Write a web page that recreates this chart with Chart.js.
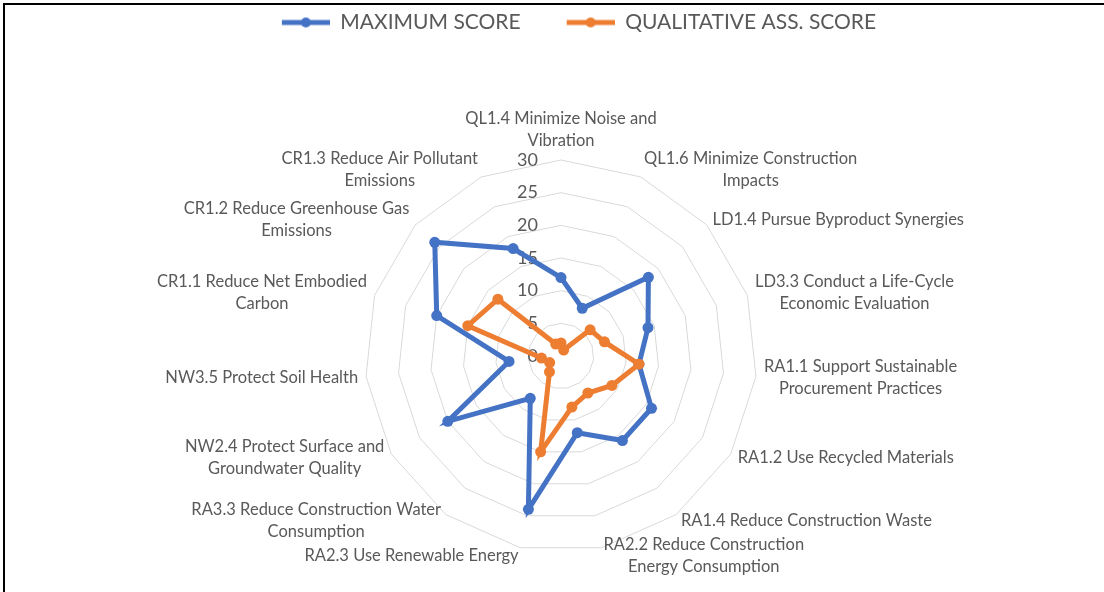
<!DOCTYPE html>
<html>
<head>
<meta charset="utf-8">
<title>Radar chart</title>
<script src="https://cdn.jsdelivr.net/npm/chart.js@4.4.0/dist/chart.umd.min.js"></script>
<style>
  html, body { margin: 0; padding: 0; background: #fff; }
  #wrap { position: relative; width: 1104px; height: 592px; overflow: hidden; }
  #radarChart { position: absolute; left: 0; top: 0; }
  #frame { position: absolute; left: 3px; top: 3px; right: -4px; bottom: -4px;
           border-top: 2px solid #000; border-left: 2px solid #000; pointer-events: none; }
</style>
</head>
<body>
<div id="wrap">
  <canvas id="radarChart" width="1104" height="592"></canvas>
  <div id="frame"></div>
</div>
<script>
// Categories (multi-line labels as arrays)
const categories = [
  ['QL1.4 Minimize Noise and', 'Vibration'],
  ['QL1.6 Minimize Construction', 'Impacts'],
  'LD1.4 Pursue Byproduct Synergies',
  ['LD3.3 Conduct a Life-Cycle', 'Economic Evaluation'],
  ['RA1.1 Support Sustainable', 'Procurement Practices'],
  'RA1.2 Use Recycled Materials',
  'RA1.4 Reduce Construction Waste',
  ['RA2.2 Reduce Construction', 'Energy Consumption'],
  'RA2.3 Use Renewable Energy',
  ['RA3.3 Reduce Construction Water', 'Consumption'],
  ['NW2.4 Protect Surface and', 'Groundwater Quality'],
  'NW3.5 Protect Soil Health',
  ['CR1.1 Reduce Net Embodied', 'Carbon'],
  ['CR1.2 Reduce Greenhouse Gas', 'Emissions'],
  ['CR1.3 Reduce Air Pollutant', 'Emissions']
];

// Series values
const maximumScore = [12, 8, 18, 14, 12, 16, 16, 12, 24, 8, 20, 8, 20, 26, 18];
const qualitativeScore = [2, 1, 6, 7, 12, 9, 7, 8, 15, 3, 2, 3, 15, 13, 2];

// Value axis
const axisMin = 0;
const axisMax = 30;
const axisStep = 5;

const BLUE = '#4472C4';
const ORANGE = '#ED7D31';
const TEXT = '#595959';
const FONT = 'Lato';

// Legend marker: line with a dot; blank on the left works as gap before the item
const ICON_GAP = 36, ICON_LINE = 48;
function legendIcon(color) {
  const c = document.createElement('canvas');
  c.width = ICON_GAP + ICON_LINE; c.height = 14;
  const g = c.getContext('2d');
  g.strokeStyle = color;
  g.lineWidth = 5;
  g.beginPath(); g.moveTo(ICON_GAP, 7); g.lineTo(ICON_GAP + ICON_LINE, 7); g.stroke();
  g.fillStyle = color;
  g.beginPath(); g.arc(ICON_GAP + ICON_LINE / 2, 7, 5, 0, Math.PI * 2); g.fill();
  return c;
}
const icons = [legendIcon(BLUE), legendIcon(ORANGE)];

// Excel-like tick labels and category labels
const radarText = {
  id: 'radarText',
  beforeDatasetsDraw(chart) {
    const s = chart.scales.r;
    const ctx = chart.ctx;
    ctx.save();
    ctx.fillStyle = TEXT;

    // value ticks, left of the vertical axis
    ctx.font = '18px ' + FONT;
    ctx.textAlign = 'right';
    ctx.textBaseline = 'middle';
    s.ticks.forEach(t => {
      ctx.fillText(t.label, s.xCenter - 23, s.yCenter - s.getDistanceFromCenterForValue(t.value));
    });

    // category labels
    ctx.font = '16.5px ' + FONT;
    ctx.textAlign = 'center';
    const lineGap = 22;
    const n = chart.data.labels.length;
    chart.data.labels.forEach((lab, i) => {
      const lines = Array.isArray(lab) ? lab : [lab];
      const p = s.getPointPosition(i, s.drawingArea + 8);
      const a = i * 2 * Math.PI / n;
      const sin = Math.sin(a), cos = Math.cos(a);
      const w = Math.max(...lines.map(l => ctx.measureText(l).width));
      const h = lines.length * lineGap;
      let left, top;
      if (Math.abs(sin) < 0.1) {
        left = p.x - w / 2;
        top = cos > 0 ? p.y - h : p.y;
      } else {
        left = sin > 0 ? p.x : p.x - w;
        top = p.y - h / 2;
      }
      lines.forEach((l, k) => ctx.fillText(l, left + w / 2, top + lineGap * (k + 0.5)));
    });
    ctx.restore();
  }
};

const ctx = document.getElementById('radarChart').getContext('2d');
new Chart(ctx, {
  type: 'radar',
  data: {
    labels: categories,
    datasets: [{
      label: 'MAXIMUM SCORE',
      data: maximumScore,
      borderColor: BLUE,
      backgroundColor: BLUE,
      pointBackgroundColor: BLUE,
      pointBorderColor: BLUE,
      borderWidth: 5,
      pointRadius: 5.5,
      pointBorderWidth: 0,
      fill: false,
      order: 2
    }, {
      label: 'QUALITATIVE ASS. SCORE',
      data: qualitativeScore,
      borderColor: ORANGE,
      backgroundColor: ORANGE,
      pointBackgroundColor: ORANGE,
      pointBorderColor: ORANGE,
      borderWidth: 5,
      pointRadius: 5.5,
      pointBorderWidth: 0,
      fill: false,
      order: 1
    }]
  },
  options: {
    responsive: false,
    animation: false,
    devicePixelRatio: 1,
    layout: { padding: { top: 2, bottom: 40, left: 18, right: 0 } },
    plugins: {
      legend: {
        position: 'top',
        labels: {
          usePointStyle: true,
          pointStyleWidth: ICON_GAP + ICON_LINE,
          padding: 10,
          color: TEXT,
          font: { family: FONT, size: 21 },
          sort: (a, b) => a.datasetIndex - b.datasetIndex,
          generateLabels(chart) {
            const items = Chart.defaults.plugins.legend.labels.generateLabels(chart);
            items.forEach(it => { it.pointStyle = icons[it.datasetIndex]; });
            return items;
          }
        }
      },
      // empty spacer between the legend and the plot
      title: { display: true, text: '', weight: 0, padding: { top: 0, bottom: 102.6 } },
      tooltip: { enabled: false }
    },
    scales: {
      r: {
        min: axisMin,
        max: axisMax,
        ticks: { display: false, stepSize: axisStep },
        pointLabels: { display: false },
        angleLines: { display: false },
        grid: { color: '#D9D9D9', lineWidth: 1, circular: false }
      }
    }
  },
  plugins: [radarText]
});
</script>
</body>
</html>
